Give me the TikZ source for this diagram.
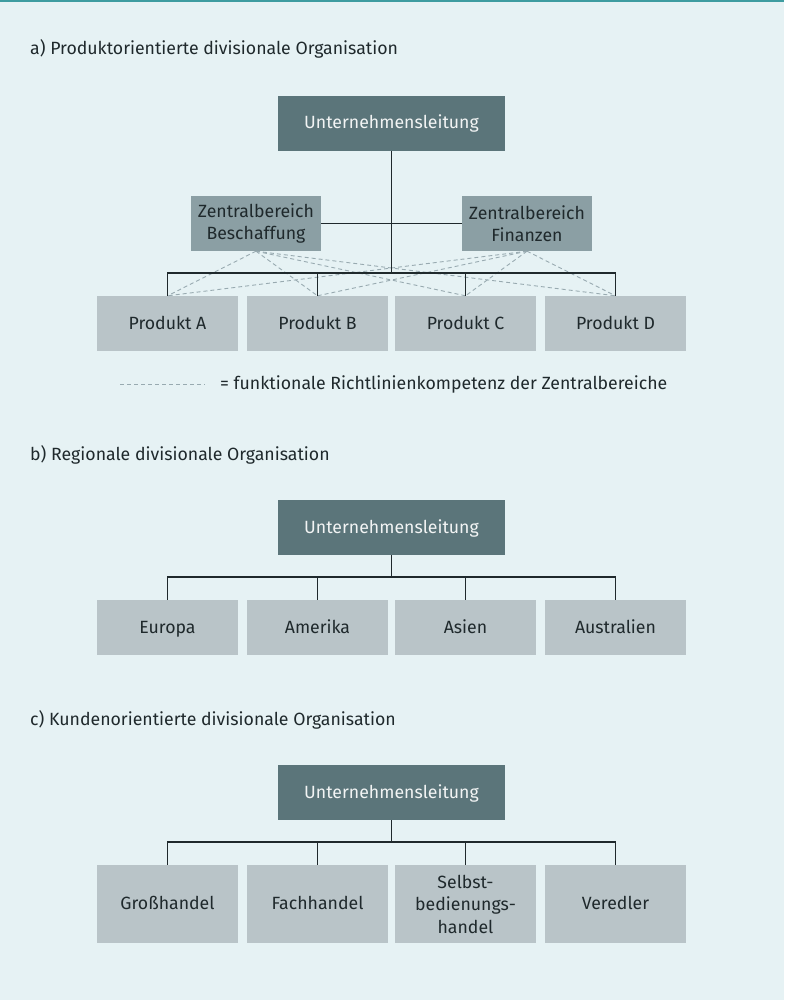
\documentclass[tikz,border=0pt]{standalone}
\usepackage{fontspec}
\setmainfont{Fira Sans}
\definecolor{bgcol}{HTML}{E6F2F4}
\definecolor{topcol}{HTML}{3E9CA0}
\definecolor{chefcol}{HTML}{5B757A}
\definecolor{zentcol}{HTML}{8B9FA4}
\definecolor{unitcol}{HTML}{B9C4C8}
\definecolor{inkcol}{HTML}{1F292C}
\definecolor{dashcol}{HTML}{98AAB0}
\begin{document}
\begin{tikzpicture}[x=1pt, y=-1pt,
    every node/.style={font=\fontsize{17.7}{22.5}\selectfont, text=inkcol},
    einzel/.style={text height=12pt, text depth=1pt},
    chef/.style={einzel, fill=chefcol, text=white!92!chefcol, minimum width=227pt, minimum height=55pt, inner sep=0pt},
    zent/.style={fill=zentcol, minimum width=130pt, minimum height=55pt, inner sep=0pt, align=center},
    unit/.style={fill=unitcol, minimum width=141pt, minimum height=55pt, inner sep=0pt, align=center},
    titel/.style={anchor=west, inner sep=0pt},
    linie/.style={draw=inkcol, line width=1.1pt},
    richt/.style={draw=dashcol, line width=0.9pt, dash pattern=on 4pt off 3pt}]

    % background
    \fill[bgcol] (0,0) rectangle (784,1000);
    \useasboundingbox (0,0) rectangle (784,1000);
    \fill[topcol] (0,0) rectangle (784,2.5);

    % a) products
    \node[titel] (titA) at (30,49) {a) Produktorientierte divisionale Organisation};
    \node[chef] (ulA) at (391.5,123.5) {Unternehmensleitung};
    \node[zent] (zbB) at (256,223.5) {Zentralbereich\\Beschaffung};
    \node[zent] (zbF) at (527,223.5) {Zentralbereich\\Finanzen};
    \node[unit, einzel] (pA) at (167.5,323.5) {Produkt A};
    \node[unit, einzel] (pB) at (317.5,323.5) {Produkt B};
    \node[unit, einzel] (pC) at (465.5,323.5) {Produkt C};
    \node[unit, einzel] (pD) at (615.5,323.5) {Produkt D};
    \coordinate (busA) at (391.5,273);

    \foreach \p in {pA,pB,pC,pD} {
        \draw[richt] (zbB.south) -- (\p.north);
        \draw[richt] (zbF.south) -- (\p.north);
    }
    \draw[linie] (ulA.south) -- (busA);
    \draw[linie] (zbB.east) -- (zbF.west);
    \draw[linie] (pA.north) -- (pA.north |- busA) -- (pD.north |- busA) -- (pD.north);
    \draw[linie] (pB.north) -- (pB.north |- busA);
    \draw[linie] (pC.north) -- (pC.north |- busA);

    % legend
    \coordinate (legL) at (120,384);
    \coordinate (legR) at (205,384);
    \draw[richt] (legL) -- (legR);
    \node[titel] (legT) at (220,384) {= funktionale Richtlinienkompetenz der Zentralbereiche};

    % b) regions
    \node[titel] (titB) at (30,455) {b) Regionale divisionale Organisation};
    \node[chef] (ulB) at (391.5,527.5) {Unternehmensleitung};
    \node[unit, einzel] (rA) at (167.5,627.5) {Europa};
    \node[unit, einzel] (rB) at (317.5,627.5) {Amerika};
    \node[unit, einzel] (rC) at (465.5,627.5) {Asien};
    \node[unit, einzel] (rD) at (615.5,627.5) {Australien};
    \coordinate (busB) at (391.5,577);
    \draw[linie] (ulB.south) -- (busB);
    \draw[linie] (rA.north) -- (rA.north |- busB) -- (rD.north |- busB) -- (rD.north);
    \draw[linie] (rB.north) -- (rB.north |- busB);
    \draw[linie] (rC.north) -- (rC.north |- busB);

    % c) customers
    \node[titel] (titC) at (30,720) {c) Kundenorientierte divisionale Organisation};
    \node[chef] (ulC) at (391.5,792.5) {Unternehmensleitung};
    \node[unit, einzel, minimum height=78pt] (kA) at (167.5,904) {Großhandel};
    \node[unit, einzel, minimum height=78pt] (kB) at (317.5,904) {Fachhandel};
    \node[unit, minimum height=78pt] (kC) at (465.5,904) {Selbst-\\bedienungs-\\handel};
    \node[unit, einzel, minimum height=78pt] (kD) at (615.5,904) {Veredler};
    \coordinate (busC) at (391.5,842);
    \draw[linie] (ulC.south) -- (busC);
    \draw[linie] (kA.north) -- (kA.north |- busC) -- (kD.north |- busC) -- (kD.north);
    \draw[linie] (kB.north) -- (kB.north |- busC);
    \draw[linie] (kC.north) -- (kC.north |- busC);
\end{tikzpicture}
\end{document}
